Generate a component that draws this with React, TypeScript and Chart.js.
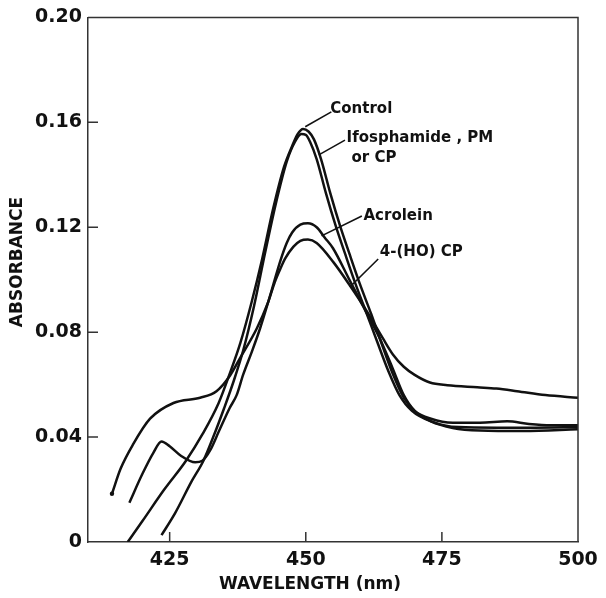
import React, { useEffect, useRef } from 'react';
import { Chart, registerables } from 'chart.js';

Chart.register(...registerables);

// ---- axis ranges and ticks ----
const wavelengthMin = 410;
const wavelengthMax = 500;
const absMin = 0;
const absMax = 0.2;
const xTickValues = [425, 450, 475, 500];
const yTickValues = [0, 0.04, 0.08, 0.12, 0.16, 0.2];

// ---- series: Control ----
const controlNm = [417.3, 420, 424, 428, 431, 434, 436, 438, 440, 442, 444, 446, 447.5, 448.5, 449.5, 450.5, 451.5, 452.8, 454.5, 456.3, 458, 460, 462, 463.6, 466, 468, 470, 473, 477, 482, 487, 491, 495, 500];
const controlAbs = [0, 0.008, 0.02, 0.031, 0.041, 0.053, 0.064, 0.076, 0.091, 0.108, 0.127, 0.143, 0.151, 0.1555, 0.1575, 0.1565, 0.1535, 0.146, 0.133, 0.1205, 0.11, 0.098, 0.087, 0.0776, 0.064, 0.055, 0.05, 0.047, 0.0455, 0.0455, 0.046, 0.045, 0.0445, 0.0445];

// ---- series: Ifosphamide, PM or CP ----
const ifosNm = [423.5, 426, 429, 431.2, 433, 435, 436.7, 438.5, 440.5, 442.5, 444.5, 446.5, 448, 449.2, 450, 450.8, 452, 453.7, 455.5, 457.2, 459.2, 461.2, 463, 465.2, 467.2, 469.5, 473, 478, 485, 492, 500];
const ifosAbs = [0.0026, 0.011, 0.023, 0.031, 0.04, 0.051, 0.061, 0.073, 0.09, 0.11, 0.129, 0.145, 0.1525, 0.1555, 0.1552, 0.1525, 0.146, 0.133, 0.1205, 0.11, 0.098, 0.087, 0.077, 0.065, 0.056, 0.05, 0.046, 0.0438, 0.0436, 0.0436, 0.0438];

// ---- series: Acrolein ----
const acroleinNm = [417.6, 420, 422, 423.5, 425, 427, 429.7, 431, 432.4, 434, 436, 437.3, 438.5, 440.1, 441.6, 443.1, 444.3, 445.3, 446.5, 447.5, 449, 450.4, 452, 453.5, 455, 458, 461, 463.6, 466, 468, 470, 473, 477, 482, 490, 500];
const acroleinAbs = [0.015, 0.026, 0.034, 0.0383, 0.0365, 0.033, 0.0304, 0.031, 0.0348, 0.042, 0.051, 0.056, 0.0638, 0.0726, 0.0814, 0.0915, 0.1, 0.107, 0.114, 0.118, 0.121, 0.1215, 0.12, 0.116, 0.112, 0.1, 0.088, 0.0776, 0.066, 0.056, 0.05, 0.046, 0.0435, 0.0425, 0.0423, 0.043];

// ---- series: 4-(HO) CP ----
const hoCpNm = [414.4, 416, 418.3, 421.4, 425.7, 430.6, 433.6, 436.1, 437.9, 441, 443.1, 444.3, 445.3, 446.2, 447.7, 449, 450.4, 452, 455.1, 458.1, 461.2, 464.2, 466, 468, 470, 472.8, 476, 481.5, 485, 488.8, 494, 500];
const hoCpAbs = [0.0184, 0.028, 0.0373, 0.047, 0.053, 0.055, 0.0575, 0.0635, 0.07, 0.0814, 0.0915, 0.099, 0.104, 0.108, 0.1125, 0.1148, 0.1153, 0.114, 0.1066, 0.0978, 0.088, 0.0775, 0.0715, 0.0668, 0.0637, 0.0608, 0.0598, 0.059, 0.0585, 0.0575, 0.056, 0.055];

// ---- curve labels (text, anchor in data units) ----
const labelTexts = ['Control', 'Ifosphamide , PM', 'or CP', 'Acrolein', '4-(HO) CP'];
const labelNm = [454.5, 457.5, 458.4, 460.6, 463.6];
const labelAbs = [0.1652, 0.1539, 0.1463, 0.1243, 0.1104];
// leader lines: [fromNm, fromAbs, toNm, toAbs]
const leaderLines = [
  [449.9, 0.1583, 454.7, 0.164],
  [452.4, 0.1476, 457.2, 0.1532],
  [452.9, 0.1167, 460.3, 0.1243],
  [458.1, 0.0972, 463.3, 0.1079],
];

const xTitle = 'WAVELENGTH (nm)';
const yTitle = 'ABSORBANCE';

const ink = '#111111';
const axisInk = '#333333';
const fontFamily = "'DejaVu Sans', sans-serif";

function toPoints(xs: number[], ys: number[]) {
  return xs.map((x, i) => ({ x, y: ys[i] }));
}

const decorPlugin = {
  id: 'decor',
  afterDraw(chart: any) {
    const { ctx, chartArea, scales } = chart;
    const xs = scales.x;
    const ys = scales.y;
    ctx.save();
    // frame top and right
    ctx.strokeStyle = axisInk;
    ctx.lineWidth = 1.5;
    ctx.beginPath();
    ctx.moveTo(chartArea.left, chartArea.top);
    ctx.lineTo(chartArea.right, chartArea.top);
    ctx.lineTo(chartArea.right, chartArea.bottom);
    ctx.stroke();
    // inner tick marks
    ctx.beginPath();
    xTickValues.forEach((v) => {
      if (v >= wavelengthMax) return;
      const px = xs.getPixelForValue(v);
      ctx.moveTo(px, chartArea.bottom);
      ctx.lineTo(px, chartArea.bottom - 10);
    });
    yTickValues.forEach((v) => {
      if (v <= absMin || v >= absMax) return;
      const py = ys.getPixelForValue(v);
      ctx.moveTo(chartArea.left, py);
      ctx.lineTo(chartArea.left + 10, py);
    });
    ctx.stroke();
    // pen start dot on 4-(HO) CP
    ctx.fillStyle = ink;
    ctx.beginPath();
    ctx.arc(xs.getPixelForValue(hoCpNm[0]), ys.getPixelForValue(hoCpAbs[0]), 2.2, 0, Math.PI * 2);
    ctx.fill();
    // leader lines
    ctx.strokeStyle = ink;
    ctx.lineWidth = 1.6;
    ctx.beginPath();
    leaderLines.forEach((l) => {
      ctx.moveTo(xs.getPixelForValue(l[0]), ys.getPixelForValue(l[1]));
      ctx.lineTo(xs.getPixelForValue(l[2]), ys.getPixelForValue(l[3]));
    });
    ctx.stroke();
    // curve labels
    ctx.font = `bold 15px ${fontFamily}`;
    ctx.textAlign = 'left';
    ctx.textBaseline = 'middle';
    labelTexts.forEach((t, i) => {
      ctx.fillText(t, xs.getPixelForValue(labelNm[i]), ys.getPixelForValue(labelAbs[i]));
    });
    // axis titles
    ctx.font = `bold 17px ${fontFamily}`;
    ctx.textAlign = 'center';
    ctx.fillText(xTitle, 310, 585);
    ctx.translate(18, 262);
    ctx.rotate(-Math.PI / 2);
    ctx.fillText(yTitle, 0, 0);
    ctx.restore();
  },
};

export default function App() {
  const ref = useRef<HTMLCanvasElement>(null);
  useEffect(() => {
    if (!ref.current) return;
    const lineStyle = {
      borderColor: ink,
      borderWidth: 2.5,
      pointRadius: 0,
      fill: false,
      cubicInterpolationMode: 'monotone' as const,
    };
    const chart = new Chart(ref.current, {
      type: 'line',
      data: {
        datasets: [
          { label: 'Control', data: toPoints(controlNm, controlAbs), ...lineStyle },
          { label: 'Ifosphamide, PM or CP', data: toPoints(ifosNm, ifosAbs), ...lineStyle },
          { label: 'Acrolein', data: toPoints(acroleinNm, acroleinAbs), ...lineStyle },
          { label: '4-(HO) CP', data: toPoints(hoCpNm, hoCpAbs), ...lineStyle },
        ],
      },
      options: {
        responsive: false,
        devicePixelRatio: 1,
        animation: false,
        events: [],
        layout: { padding: { top: 13, right: 28, left: 0, bottom: 0 } },
        plugins: { legend: { display: false }, tooltip: { enabled: false } },
        scales: {
          x: {
            type: 'linear',
            min: wavelengthMin,
            max: wavelengthMax,
            afterBuildTicks: (s: any) => {
              s.ticks = xTickValues.map((v) => ({ value: v }));
            },
            afterFit: (s: any) => {
              s.height = 56;
            },
            grid: { display: false, drawTicks: false },
            border: { display: true, color: axisInk, width: 1.5 },
            ticks: {
              color: ink,
              padding: 7,
              maxRotation: 0,
              font: { family: fontFamily, weight: 'bold', size: 19 },
              callback: (v: any) => String(v),
            },
          },
          y: {
            type: 'linear',
            min: absMin,
            max: absMax,
            afterBuildTicks: (s: any) => {
              s.ticks = yTickValues.map((v) => ({ value: v }));
            },
            afterFit: (s: any) => {
              s.width = 88;
            },
            grid: { display: false, drawTicks: false },
            border: { display: true, color: axisInk, width: 1.5 },
            ticks: {
              color: ink,
              padding: 6,
              font: { family: fontFamily, weight: 'bold', size: 19 },
              callback: (v: any) => (Number(v) === 0 ? '0' : Number(v).toFixed(2)),
            },
          },
        },
      },
      plugins: [decorPlugin],
    });
    return () => chart.destroy();
  }, []);
  return (
    <div style={{ position: 'absolute', left: 0, top: 0, width: 606, height: 598, background: '#fff' }}>
      <canvas ref={ref} width={606} height={598} style={{ display: 'block' }} />
    </div>
  );
}
